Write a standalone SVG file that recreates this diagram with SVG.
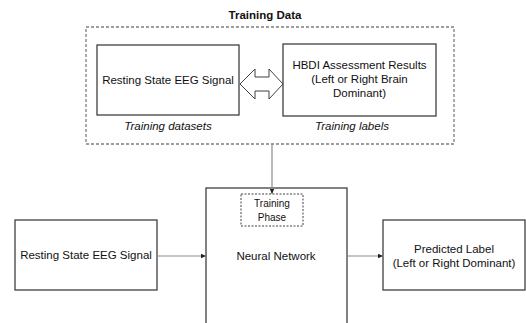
<svg xmlns="http://www.w3.org/2000/svg" width="526" height="323" viewBox="0 0 526 323">
<style>
.box{fill:#fff;stroke:#404040;stroke-width:1.3}
.dash{fill:none;stroke:#7f7f7f;stroke-width:1.3;stroke-dasharray:3,2}
.dash2{fill:#fff;stroke:#404040;stroke-width:1;stroke-dasharray:2,1.5}
.t{font-family:"Liberation Sans",Arial,sans-serif;font-size:11.5px;fill:#111;text-anchor:middle}
.s{font-size:10px}
.i{font-style:italic}
.b{font-weight:bold}
.c{fill:none;stroke:#8c8c8c;stroke-width:1.2}
</style>
<defs>
<marker id="ah" markerWidth="6" markerHeight="6" refX="5" refY="3" orient="auto" markerUnits="userSpaceOnUse">
<path d="M0,0.8 L5,3 L0,5.2 Z" fill="#222"/>
</marker>
</defs>
<g id="training-data">
<text class="t b" x="265" y="19">Training Data</text>
<rect class="dash" x="86" y="27" width="368" height="117"/>
</g>
<g id="train-eeg">
<rect class="box" x="97" y="45" width="142" height="70"/>
<text class="t" x="168" y="84">Resting State EEG Signal</text>
<text class="t i" x="168" y="130">Training datasets</text>
</g>
<g id="hbdi">
<rect class="box" x="283" y="44" width="153" height="72"/>
<text class="t" x="359.5" y="69">HBDI Assessment Results</text>
<text class="t" x="359.5" y="83">(Left or Right Brain</text>
<text class="t" x="359.5" y="97">Dominant)</text>
<text class="t i" x="352" y="130">Training labels</text>
</g>
<g id="double-arrow">
<path d="M240,84 L255,69 L255,77 L269,77 L269,69 L283,84 L269,99 L269,91 L255,91 L255,99 Z" fill="#fff" stroke="#404040" stroke-width="1"/>
</g>
<g id="input-eeg">
<rect class="box" x="15" y="220" width="142" height="70"/>
<text class="t" x="86" y="259">Resting State EEG Signal</text>
</g>
<g id="neural-network">
<rect class="box" x="206" y="188" width="141" height="150"/>
<text class="t" x="276" y="260">Neural Network</text>
</g>
<g id="training-phase">
<rect class="dash2" x="241" y="194" width="62" height="32"/>
<text class="t s" x="272" y="207">Training</text>
<text class="t s" x="272" y="221">Phase</text>
</g>
<g id="predicted">
<rect class="box" x="383" y="220" width="142" height="70"/>
<text class="t" x="454" y="253">Predicted Label</text>
<text class="t" x="454" y="267">(Left or Right Dominant)</text>
</g>
<g id="connectors">
<line class="c" x1="272" y1="144" x2="272" y2="194" marker-end="url(#ah)"/>
<line class="c" x1="157" y1="256" x2="206" y2="256" marker-end="url(#ah)"/>
<line class="c" x1="347" y1="256" x2="383" y2="256" marker-end="url(#ah)"/>
</g>
</svg>
